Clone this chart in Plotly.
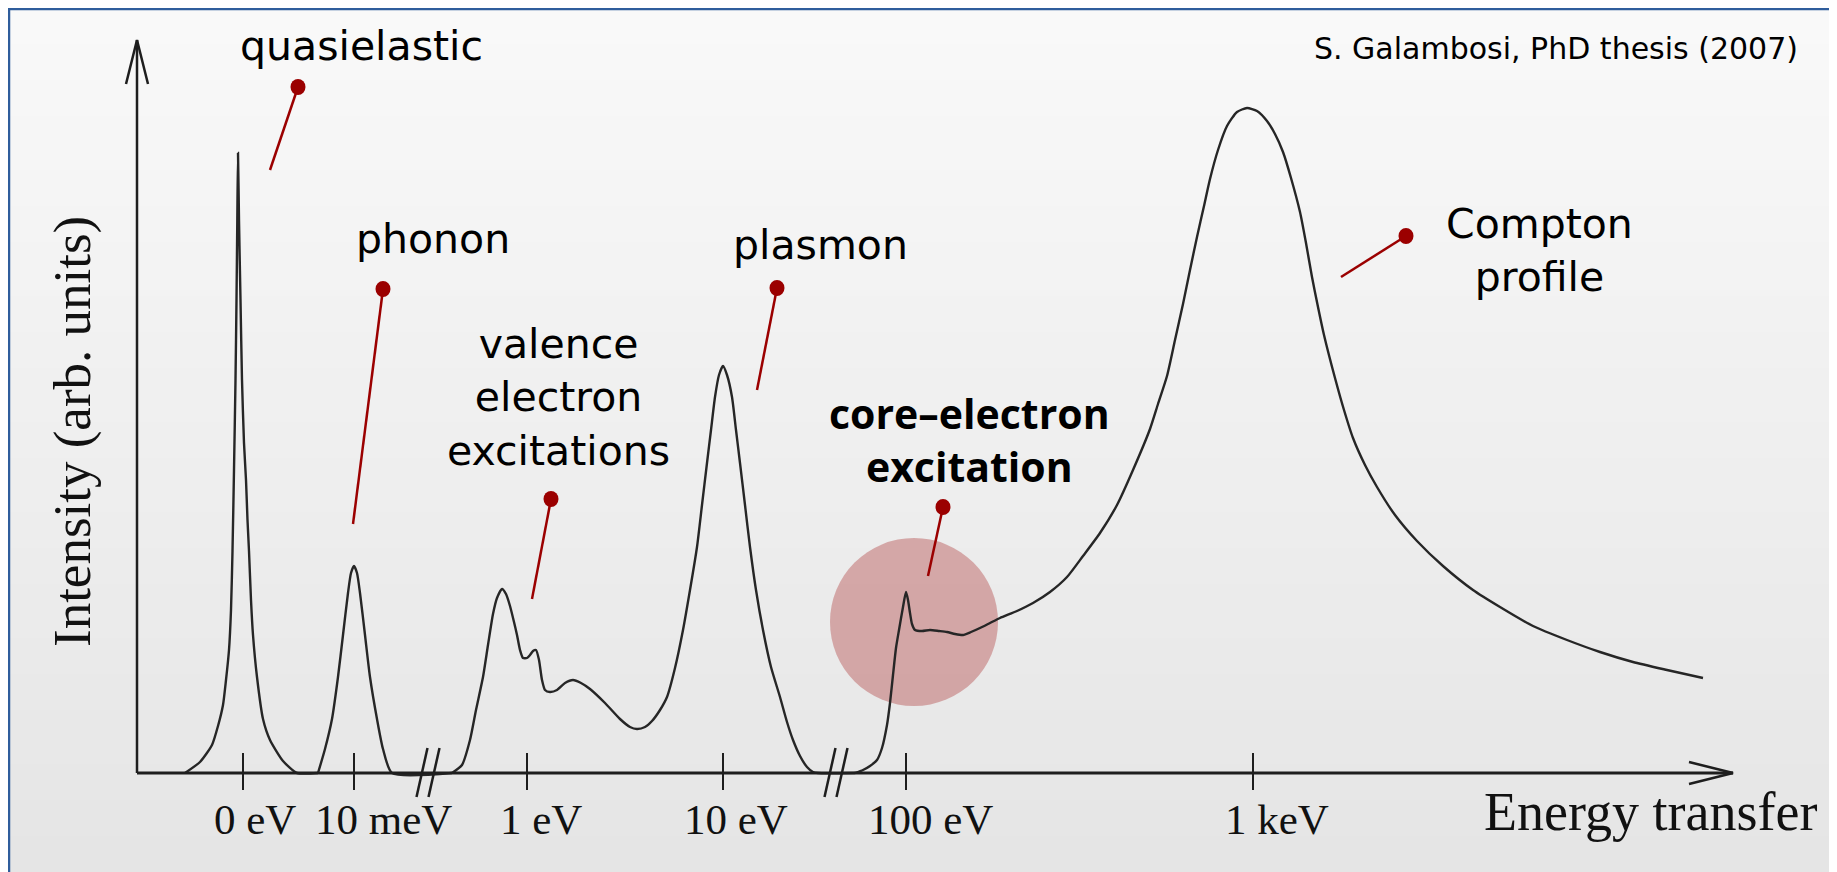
import plotly.graph_objects as go

# ---------------- data (schematic broken energy axis, intensity in arb. units) ----------------
quasielastic_x = [185, 200, 212, 218, 223, 226, 229, 231, 232.5, 234, 235.5, 236.5, 237.3, 238,
                  239, 240.5, 242, 244, 246, 247.5, 249, 251, 253, 257, 263, 270, 283, 297, 318]
quasielastic_y = [0, 11, 28, 47, 68, 93, 123, 163, 222, 303, 393, 473, 553, 620,
                  553, 473, 393, 330, 293, 253, 222, 173, 138, 96, 54, 33, 12, 0, 0]

phonon_x = [318, 325, 332, 338, 343, 348, 351, 354, 357, 360, 365, 370, 377, 383, 392, 452]
phonon_y = [0, 24, 54, 96, 138, 180, 200, 207, 200, 180, 138, 96, 54, 24, 0, 0]

valence_plasmon_x = [452, 462, 470, 476, 483, 488, 493, 497, 502, 506, 510, 514, 517, 520, 523, 527,
                     530, 533, 536, 539, 542, 545, 550, 557, 565, 573, 581, 590, 605, 620, 630,
                     637, 645, 652, 660, 667, 675, 683, 690, 697, 702, 707, 711, 715, 719, 723, 727,
                     732, 736, 740, 745, 750, 756, 763, 771, 780, 787, 793, 800, 807, 813, 818, 855]
valence_plasmon_y = [0, 8, 33, 63, 96, 128, 159, 175, 184, 179, 167, 151, 138, 123, 115, 115,
                     118, 122, 123, 113, 93, 83, 81, 83, 90, 93, 90, 84, 70, 54, 46,
                     44, 46, 52, 63, 76, 105, 143, 183, 226, 268, 310, 343, 376, 398, 407, 398,
                     376, 343, 310, 268, 226, 183, 143, 106, 76, 51, 33, 17, 6, 1, 0, 0]

core_compton_x = [855, 863, 870, 877, 882, 887, 890, 893, 896, 899, 903, 906, 908, 910, 912, 915,
                  922, 930, 939, 947, 955, 963, 971, 980, 990, 1000, 1017, 1033, 1050, 1067, 1083,
                  1100, 1117, 1133, 1150, 1158, 1167, 1175, 1183, 1190, 1197, 1204, 1210, 1218,
                  1227, 1237, 1247, 1257, 1267, 1275, 1283, 1291, 1300, 1306, 1312, 1318, 1324,
                  1335, 1344, 1353, 1365, 1377, 1395, 1417, 1443, 1473, 1500, 1533, 1567, 1600,
                  1633, 1667, 1703]
core_compton_y = [0, 3, 7, 13, 25, 48, 70, 98, 125, 143, 166, 181, 173, 160, 149, 143,
                  142, 143, 142, 141, 139, 138, 141, 145, 150, 155, 162, 170, 181, 196, 217,
                  240, 268, 303, 344, 369, 397, 433, 469, 503, 536, 567, 594, 623,
                  647, 661, 665, 662, 652, 639, 621, 595, 561, 530, 496, 466, 438,
                  395, 363, 335, 308, 286, 258, 232, 207, 183, 166, 147, 133, 121,
                  111, 103, 95]

tick_positions = [243, 354, 527, 723, 906, 1253]
tick_labels = ["0 eV", "10 meV", "1 eV", "10 eV", "100 eV", "1 keV"]
axis_breaks = [428, 836]

feature_labels = ["quasielastic", "phonon", "valence<br>electron<br>excitations", "plasmon",
                  "core–electron<br>excitation", "Compton<br>profile"]
x_title = "Energy transfer"
y_title = "Intensity (arb. units)"
credit = "S. Galambosi, PhD thesis (2007)"

# ---------------- layout helpers ----------------
W, H = 1837, 872      # page (window) size in pixels
OFF = 8               # default page margin in front of the figure
BASE = 773            # page row of zero intensity


def py(p):
    """page pixel row -> y data value"""
    return BASE - p


CURVE = "#262626"
PIN = "#9b0000"
AXIS = "#1e1e1e"

fig = go.Figure()
for xs, ys in [(quasielastic_x, quasielastic_y), (phonon_x, phonon_y),
               (valence_plasmon_x, valence_plasmon_y), (core_compton_x, core_compton_y)]:
    fig.add_trace(go.Scatter(x=xs, y=ys, mode="lines",
                             line=dict(color=CURVE, width=2.4, shape="spline", smoothing=0.6),
                             hoverinfo="skip", showlegend=False))

shapes = []
# background gradient
N = 48
top, bot = OFF, H
for i in range(N):
    y0 = top + (bot - top) * i / N
    y1 = top + (bot - top) * (i + 1) / N + 1
    t = i / (N - 1)
    c = round(249 - 20 * t)
    shapes.append(dict(type="rect", xref="x", yref="y", x0=OFF, x1=W, y0=py(y0), y1=py(y1),
                       fillcolor=f"rgb({c},{c},{c})", line=dict(width=0), layer="below"))
# blue frame (top and left)
shapes.append(dict(type="line", xref="x", yref="y", x0=OFF + 1, x1=OFF + 1, y0=py(OFF), y1=py(H),
                   line=dict(color="#2f5d9c", width=2.5), layer="below"))
shapes.append(dict(type="line", xref="x", yref="y", x0=OFF, x1=W, y0=py(OFF + 1), y1=py(OFF + 1),
                   line=dict(color="#2f5d9c", width=2.5), layer="below"))
# highlight disc on core-electron edge
shapes.append(dict(type="circle", xref="x", yref="y", x0=830, x1=998, y0=py(706), y1=py(538),
                   fillcolor="rgba(172,50,50,0.37)", line=dict(width=0), layer="below"))

# axes
X0, XEND, YTOP = 137, 1733, 40
shapes.append(dict(type="line", xref="x", yref="y", x0=X0, x1=XEND, y0=0, y1=0,
                   line=dict(color=AXIS, width=3)))
shapes.append(dict(type="line", xref="x", yref="y", x0=X0, x1=X0, y0=0, y1=py(YTOP),
                   line=dict(color=AXIS, width=2.5)))
# arrowheads (open chevrons)
AL, AW = 44, 11
shapes.append(dict(type="path", xref="x", yref="y",
                   path=f"M {XEND-AL},{AW} L {XEND},0 L {XEND-AL},{-AW}",
                   line=dict(color=AXIS, width=2.5)))
shapes.append(dict(type="path", xref="x", yref="y",
                   path=f"M {X0-AW},{py(YTOP+AL)} L {X0},{py(YTOP)} L {X0+AW},{py(YTOP+AL)}",
                   line=dict(color=AXIS, width=2.5)))
# tick marks crossing the axis
for tx in tick_positions:
    shapes.append(dict(type="line", xref="x", yref="y", x0=tx, x1=tx, y0=-17, y1=20,
                       line=dict(color=AXIS, width=2)))
# axis breaks //
for bx in axis_breaks:
    for dx in (-11.5, 0.5):
        shapes.append(dict(type="line", xref="x", yref="y", x0=bx + dx, x1=bx + dx + 11,
                           y0=-24, y1=25, line=dict(color=AXIS, width=2.5)))

# pins (dot + stick) for the feature labels
pins = [((298, 87), (270, 170)), ((383, 289), (353, 524)), ((551, 499), (532, 599)),
        ((777, 288), (757, 390)), ((943, 507), (928, 576)), ((1406, 236), (1341, 277))]
for (dx_, dy_), (ex, ey) in pins:
    shapes.append(dict(type="line", xref="x", yref="y", x0=dx_, x1=ex, y0=py(dy_), y1=py(ey),
                       line=dict(color=PIN, width=2.5)))
    shapes.append(dict(type="circle", xref="x", yref="y", x0=dx_ - 7.5, x1=dx_ + 7.5,
                       y0=py(dy_ + 8), y1=py(dy_ - 8), fillcolor=PIN, line=dict(width=0)))

annotations = []
SANS = "DejaVu Sans"
SANS_BOLD = "Open Sans"
SERIF = "Liberation Serif"
label_pos = [(361, 46, False, 41), (433, 239, False, 41), (558, 397, False, 41),
             (820, 245, False, 41), (969, 439, True, 41), (1539, 250, False, 41)]
for txt, (lx, ly, bold, fs) in zip(feature_labels, label_pos):
    annotations.append(dict(x=lx, y=py(ly), xref="x", yref="y", showarrow=False,
                            text=f"<b>{txt}</b>" if bold else txt, align="center",
                            xanchor="center", yanchor="middle",
                            font=dict(family=SANS_BOLD if bold else SANS, size=fs, color="#000")))
annotations.append(dict(x=1556, y=py(48), xref="x", yref="y", showarrow=False, text=credit,
                        xanchor="center", yanchor="middle",
                        font=dict(family=SANS, size=30, color="#000")))
label_shift = [12, 29, 14, 13, 24, 24]
for tx, tl, sh in zip(tick_positions, tick_labels, label_shift):
    annotations.append(dict(x=tx, y=py(819), xref="x", yref="y", showarrow=False, text=tl,
                            xanchor="center", yanchor="middle", xshift=sh,
                            font=dict(family=SERIF, size=43, color="#111")))
annotations.append(dict(x=1650, y=py(812), xref="x", yref="y", showarrow=False, text=x_title,
                        xanchor="center", yanchor="middle",
                        font=dict(family=SERIF, size=54, color="#111")))
annotations.append(dict(x=72, y=py(432), xref="x", yref="y", showarrow=False, text=y_title,
                        textangle=-90, xanchor="center", yanchor="middle",
                        font=dict(family=SERIF, size=53, color="#111")))

fig.update_layout(
    width=W - OFF, height=H - OFF, autosize=False,
    margin=dict(l=0, r=0, t=0, b=0, pad=0),
    paper_bgcolor="rgb(238,238,238)", plot_bgcolor="rgba(0,0,0,0)",
    xaxis=dict(range=[OFF, W], visible=False, fixedrange=True),
    yaxis=dict(range=[py(H), py(OFF)], visible=False, fixedrange=True),
    shapes=shapes, annotations=annotations, showlegend=False,
)
fig.write_html("out.html")
